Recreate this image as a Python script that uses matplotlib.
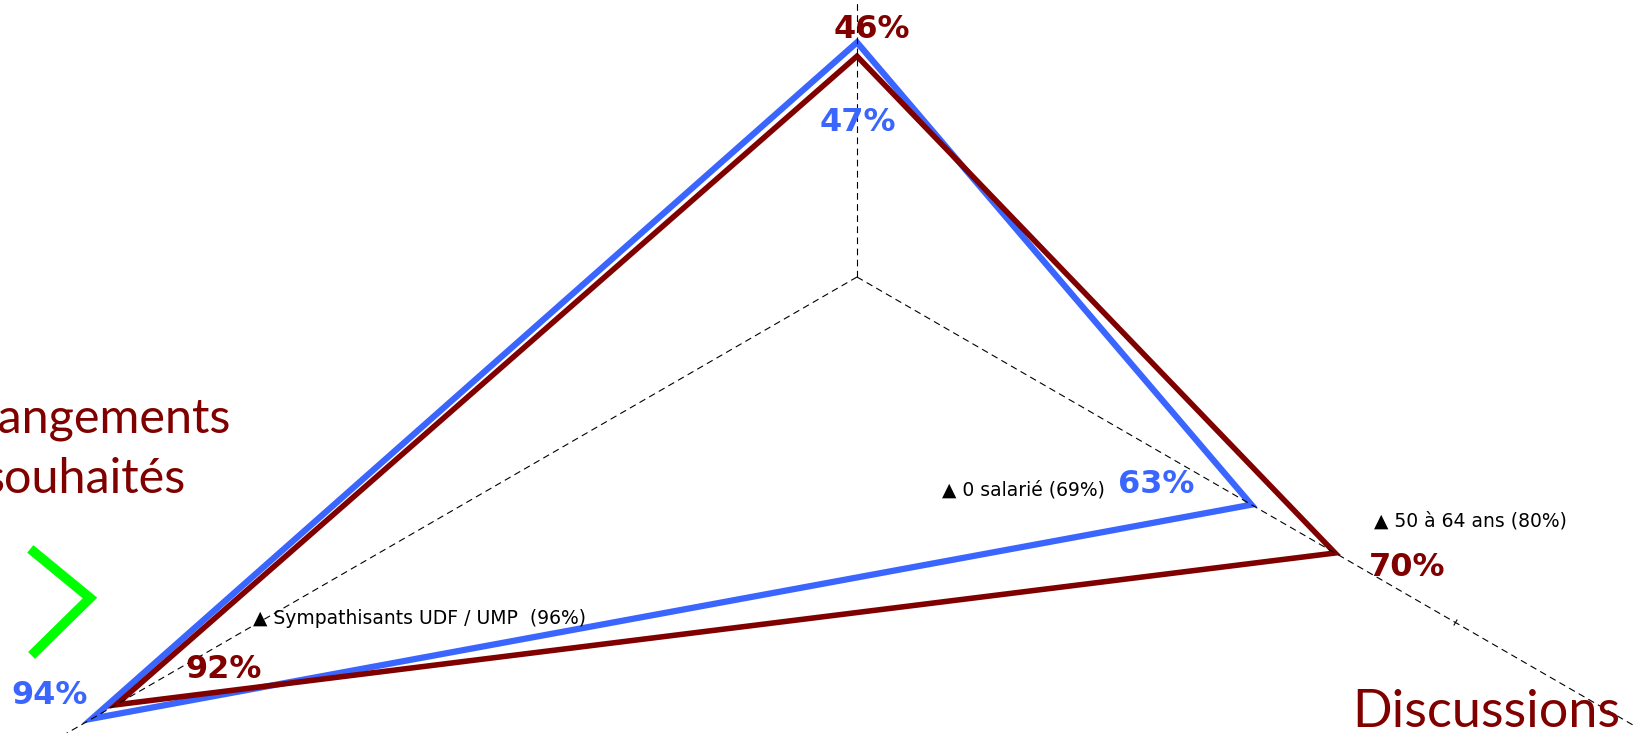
import numpy as np
import matplotlib.pyplot as plt
from matplotlib.lines import Line2D

## donnees ---------------------------------------------------------------
categories = ['', 'Changements\nsouhaités', 'Discussions']
angles_deg = [90, 210, 330]
valeurs_rouge = [46, 92, 70]
valeurs_bleu = [47, 94, 63]
etiquettes_rouge = ['46%', '92%', '70%']
etiquettes_bleu = ['47%', '94%', '63%']
notes = ['▲ Sympathisants UDF / UMP  (96%)', '▲ 0 salarié (69%)', '▲ 50 à 64 ans (80%)']
graduation = 80

r_min, r_max = 30, 100
rouge = '#800000'
bleu = '#3A66FF'

W, H = 1635, 733
cx, cy, R = 857, 277, 966   # centre et rayon du radar, en pixels


def fx(x):
    return x / W


def fy(y):
    return 1 - y / H


fig = plt.figure(figsize=(W / 100, H / 100), dpi=100)
ax = fig.add_axes([(cx - R) / W, (H - cy - R) / H, 2 * R / W, 2 * R / H], projection='polar')
ax.set_ylim(r_min, r_max)
ax.axis('off')

theta = np.radians(angles_deg)

## axes en pointilles + petite graduation
for a, t in zip(angles_deg, theta):
    ax.plot([t, t], [r_min, r_max], color='black', lw=0.8, ls=(0, (6, 4)))
    ax.plot([t], [graduation], ls='none', marker=(2, 0, a), markersize=5,
            markeredgewidth=0.8, color='black')

## les deux triangles
ax.fill(theta, valeurs_bleu, facecolor='none', edgecolor=bleu, lw=4.5, joinstyle='miter')
ax.fill(theta, valeurs_rouge, facecolor='none', edgecolor=rouge, lw=4, joinstyle='miter')

## pourcentages (decalage en pixels par rapport au sommet)
dec_rouge = [(15, 27), (108, 35), (72, -14)]
dec_bleu = [(1, -80), (-43, 23), (-95, 20)]
for t, v, txt, d in zip(theta, valeurs_rouge, etiquettes_rouge, dec_rouge):
    ax.annotate(txt, xy=(t, v), xytext=d, textcoords='offset pixels', ha='center', va='center',
                color=rouge, fontsize=23, fontweight='bold', annotation_clip=False)
for t, v, txt, d in zip(theta, valeurs_bleu, etiquettes_bleu, dec_bleu):
    ax.annotate(txt, xy=(t, v), xytext=d, textcoords='offset pixels', ha='center', va='center',
                color=bleu, fontsize=23, fontweight='bold', annotation_clip=False)

## libelles des axes
polices = ['Lato', 'DejaVu Sans']
fig.text(fx(85), fy(449), categories[1], ha='center', va='center', color=rouge,
         fontsize=35, family=polices, linespacing=1.45)
fig.text(fx(1352), fy(727), categories[2], ha='left', va='baseline', color=rouge,
         fontsize=37.5, family=polices)

## notes
pos_notes = [(253, 618), (942, 490), (1374, 521)]
for txt, (x, y) in zip(notes, pos_notes):
    fig.text(fx(x), fy(y), txt, ha='left', va='center', color='black', fontsize=13.5)

## chevron vert
fig.add_artist(Line2D([fx(34), fx(90), fx(35)], [fy(552), fy(598), fy(652)],
                      color='#00FF00', lw=7, solid_joinstyle='miter'))

fig.savefig('out.png', dpi=100)
